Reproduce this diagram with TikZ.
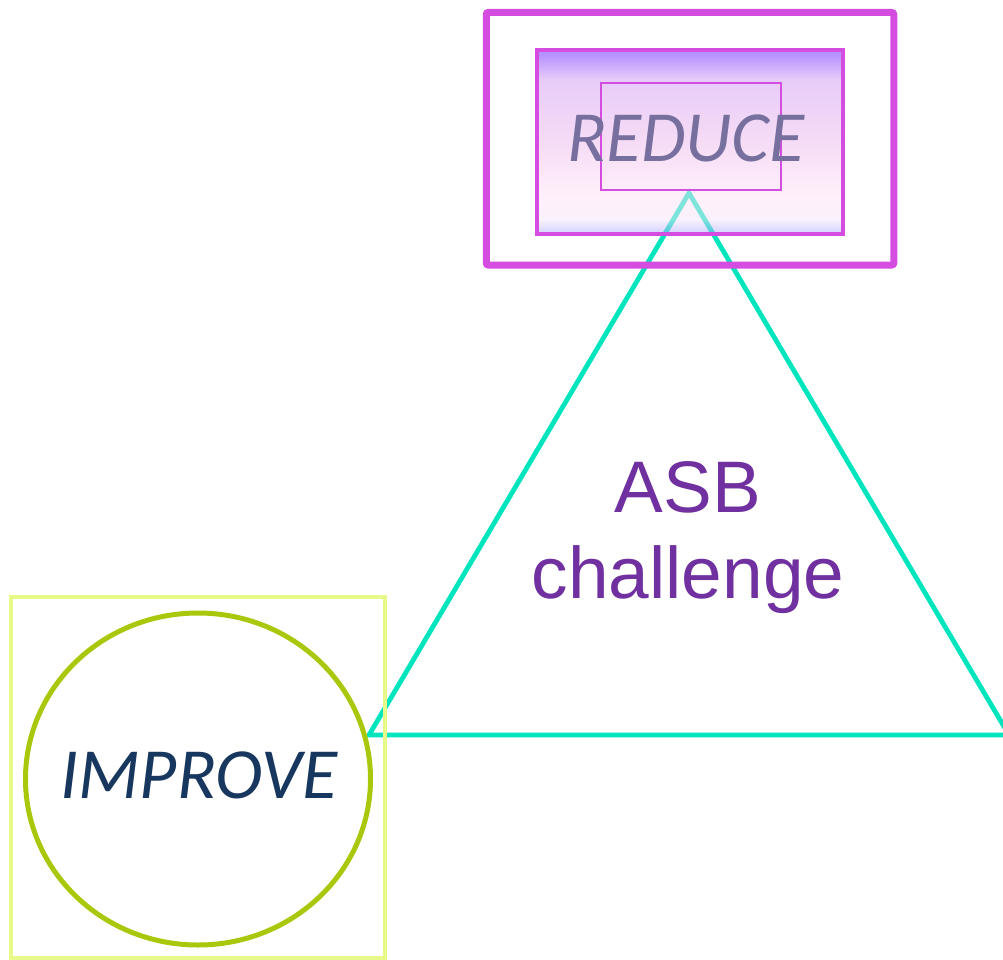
\documentclass[tikz,border=0pt]{standalone}
\usepackage{fontspec}
\usepackage{tikz}
\usetikzlibrary{shapes.geometric}

\newfontfamily\calibfont{Carlito}
\newfontfamily\asbfont{Liberation Sans}

\definecolor{boxpink}{RGB}{212,77,224}
\definecolor{triturq}{RGB}{0,229,190}
\definecolor{ringgreen}{RGB}{169,200,12}
\definecolor{sqyellow}{RGB}{232,249,138}
\definecolor{reducegrey}{RGB}{119,112,159}
\definecolor{asbpurple}{RGB}{112,48,160}
\definecolor{improvenavy}{RGB}{23,55,94}

\definecolor{shbot}{RGB}{161,161,255}
\definecolor{shlow}{RGB}{245,229,249}
\definecolor{shpale}{RGB}{255,225,247}
\definecolor{shmid}{RGB}{237,185,237}
\definecolor{shup}{RGB}{209,153,241}
\definecolor{shhi}{RGB}{113,41,255}
\definecolor{shtop}{RGB}{97,33,255}
\pgfdeclareverticalshading{reduceshade}{100bp}{color(0bp)=(shbot); color(25bp)=(shbot);
  color(29bp)=(shlow); color(35bp)=(shpale); color(50bp)=(shmid); color(67bp)=(shup);
  color(73.5bp)=(shhi); color(75bp)=(shtop); color(100bp)=(shtop)}

\begin{document}
\begin{tikzpicture}[x=1pt,y=-1pt]
            \tikzstyle{every node}=[inner sep=0pt, outer sep=0pt];
            \tikzstyle{frame}=[draw=boxpink, rectangle];
            \useasboundingbox (0,0) rectangle (1003,960);

            % the triangle
            \coordinate (apex) at (689,193);
            \coordinate (baseleft) at (369,735);
            \coordinate (baseright) at (1009,735);
            \draw[triturq, line width=4.8pt, line join=miter] (apex) -- (baseleft) -- (baseright) -- cycle;

            % reduce boxes
            \node[frame, line width=7pt, rounded corners=2pt, minimum width=407.5pt, minimum height=252.5pt] (outer) at (690,138.75) {};
            \node[frame, line width=4.5pt, shading=reduceshade, fill opacity=0.5, draw opacity=1, minimum width=306pt, minimum height=184pt] (middle) at (690,142) {};
            \node[frame, line width=1.6pt, minimum width=180pt, minimum height=107pt] (inner) at (691,136.5) {};
            \node[anchor=base, text=reducegrey, font=\calibfont\itshape\fontsize{72}{80}\selectfont] (reduce) at (686,162) {REDUCE};

            % challenge text
            \node[anchor=base, text=asbpurple, font=\asbfont\fontsize{73}{86}\selectfont] (asb) at (688,512) {ASB};
            \node[anchor=base, text=asbpurple, font=\asbfont\fontsize{73}{86}\selectfont] (challenge) at (688,598) {challenge};

            % improve
            \node[draw=sqyellow, line width=3.5pt, rectangle, minimum width=374pt, minimum height=361pt] (square) at (198,777.5) {};
            \node[draw=ringgreen, line width=5pt, ellipse, minimum width=345pt, minimum height=332pt] (ring) at (198,779) {};
            \node[anchor=base, text=improvenavy, font=\calibfont\itshape\fontsize{72}{80}\selectfont] (improve) at (199,798) {IMPROVE};
\end{tikzpicture}
\end{document}
